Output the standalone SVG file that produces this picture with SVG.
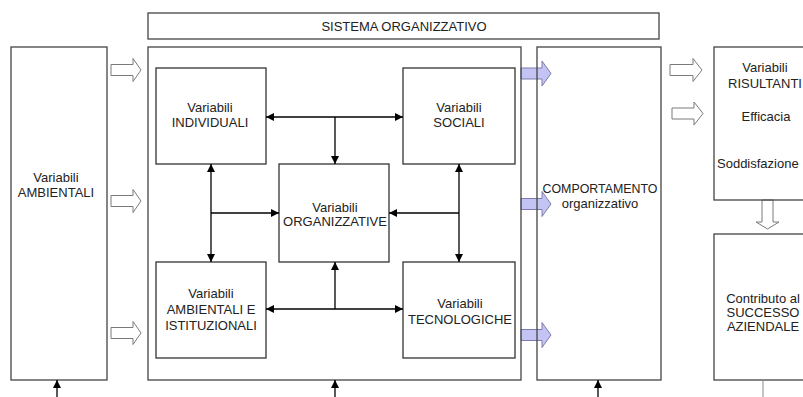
<svg xmlns="http://www.w3.org/2000/svg" width="803" height="397" viewBox="0 0 803 397">
  <style>
    .box { fill: none; stroke: #444; stroke-width: 1.3; }
    .inner { fill: #fff; stroke: #333; stroke-width: 1.3; }
    .conn { fill: none; stroke: #000; stroke-width: 1.3; }
    .hollow { fill: #fff; stroke: #7a7a7a; stroke-width: 1; }
    .blue { fill: #c4c4f4; stroke: #7c7cac; stroke-width: 1; }
    text { font-family: "Liberation Sans", Arial, sans-serif; font-size: 13px; fill: #222; text-anchor: middle; }
  </style>
  <defs>
    <marker id="ah" viewBox="0 0 10 10" refX="10" refY="5" markerWidth="8" markerHeight="8" markerUnits="userSpaceOnUse" orient="auto-start-reverse">
      <path d="M0,0 L10,5 L0,10 Z" fill="#000"/>
    </marker>
  </defs>
  <rect width="803" height="397" fill="#fff"/>

  <!-- flow arrows (drawn under the box outlines) -->
  <g id="flow-arrows">
    <polygon class="hollow" points="111,64.5 133,64.5 133,58.5 141,70 133,81.5 133,75.5 111,75.5"/>
    <polygon class="hollow" points="111,195.5 133,195.5 133,189.5 141,201 133,212.5 133,206.5 111,206.5"/>
    <polygon class="hollow" points="111,327.5 133,327.5 133,321.5 141,333 133,344.5 133,338.5 111,338.5"/>
    <polygon class="blue" points="521,68 542,68 542,61 551,73.5 542,86 542,79 521,79"/>
    <polygon class="blue" points="521,198.5 542,198.5 542,191.5 551,204 542,216.5 542,209.5 521,209.5"/>
    <polygon class="blue" points="521,329.5 542,329.5 542,322.5 551,335 542,347.5 542,340.5 521,340.5"/>
    <polygon class="hollow" points="670,64.5 693,64.5 693,58.5 702,70 693,81.5 693,75.5 670,75.5"/>
    <polygon class="hollow" points="672,108 694,108 694,102 703,113.5 694,125 694,119 672,119"/>
    <polygon class="hollow" points="762,200 773,200 773,222 779,222 767.5,229 756,222 762,222"/>
  </g>

  <g id="sistema">
    <rect class="box" x="148" y="13" width="511" height="26"/>
    <text x="404" y="31">SISTEMA ORGANIZZATIVO</text>
  </g>

  <g id="ambientali">
    <rect class="box" x="11" y="47" width="96" height="333"/>
    <text x="56" y="182">Variabili</text>
    <text x="56" y="197">AMBIENTALI</text>
  </g>

  <g id="organizzazione">
    <rect class="box" x="148" y="47" width="373" height="333"/>
  </g>

  <g id="comportamento">
    <rect class="box" x="537" y="47" width="124" height="333"/>
    <text x="600" y="193" style="font-size: 12.4px">COMPORTAMENTO</text>
    <text x="600" y="208">organizzativo</text>
  </g>

  <g id="risultanti">
    <rect class="box" x="714" y="47" width="110" height="153"/>
    <text x="765" y="72">Variabili</text>
    <text x="765" y="88">RISULTANTI</text>
    <text x="766" y="121">Efficacia</text>
    <text x="717" y="168" style="text-anchor: start">Soddisfazione</text>
  </g>

  <g id="successo">
    <rect class="box" x="714" y="234" width="110" height="146"/>
    <text x="763" y="303">Contributo al</text>
    <text x="763" y="317">SUCCESSO</text>
    <text x="763" y="331">AZIENDALE</text>
  </g>

  <g id="individuali">
    <rect class="inner" x="156" y="68" width="110" height="96"/>
    <text x="210" y="112">Variabili</text>
    <text x="210" y="127">INDIVIDUALI</text>
  </g>

  <g id="sociali">
    <rect class="inner" x="403" y="68" width="112" height="96"/>
    <text x="459" y="112">Variabili</text>
    <text x="459" y="127">SOCIALI</text>
  </g>

  <g id="organizzative">
    <rect class="inner" x="279" y="164" width="110" height="98"/>
    <text x="335" y="212">Variabili</text>
    <text x="335" y="226">ORGANIZZATIVE</text>
  </g>

  <g id="istituzionali">
    <rect class="inner" x="156" y="262" width="110" height="96"/>
    <text x="211" y="298">Variabili</text>
    <text x="211" y="314">AMBIENTALI E</text>
    <text x="211" y="330">ISTITUZIONALI</text>
  </g>

  <g id="tecnologiche">
    <rect class="inner" x="403" y="262" width="112" height="96"/>
    <text x="460" y="308">Variabili</text>
    <text x="460" y="324">TECNOLOGICHE</text>
  </g>

  <g id="connectors">
    <line class="conn" x1="266" y1="117" x2="403" y2="117" marker-start="url(#ah)" marker-end="url(#ah)"/>
    <line class="conn" x1="335" y1="117" x2="335" y2="164" marker-end="url(#ah)"/>
    <line class="conn" x1="211" y1="164" x2="211" y2="262" marker-start="url(#ah)" marker-end="url(#ah)"/>
    <line class="conn" x1="211" y1="213" x2="279" y2="213" marker-end="url(#ah)"/>
    <line class="conn" x1="459" y1="164" x2="459" y2="262" marker-start="url(#ah)" marker-end="url(#ah)"/>
    <line class="conn" x1="459" y1="213" x2="389" y2="213" marker-end="url(#ah)"/>
    <line class="conn" x1="266" y1="309" x2="403" y2="309" marker-start="url(#ah)" marker-end="url(#ah)"/>
    <line class="conn" x1="335" y1="309" x2="335" y2="262" marker-end="url(#ah)"/>
    <line class="conn" x1="57" y1="397" x2="57" y2="380" marker-end="url(#ah)"/>
    <line class="conn" x1="335" y1="397" x2="335" y2="380" marker-end="url(#ah)"/>
    <line class="conn" x1="598" y1="397" x2="598" y2="380" marker-end="url(#ah)"/>
    <line x1="763" y1="380" x2="763" y2="397" stroke="#888" stroke-width="1"/>
  </g>
</svg>
